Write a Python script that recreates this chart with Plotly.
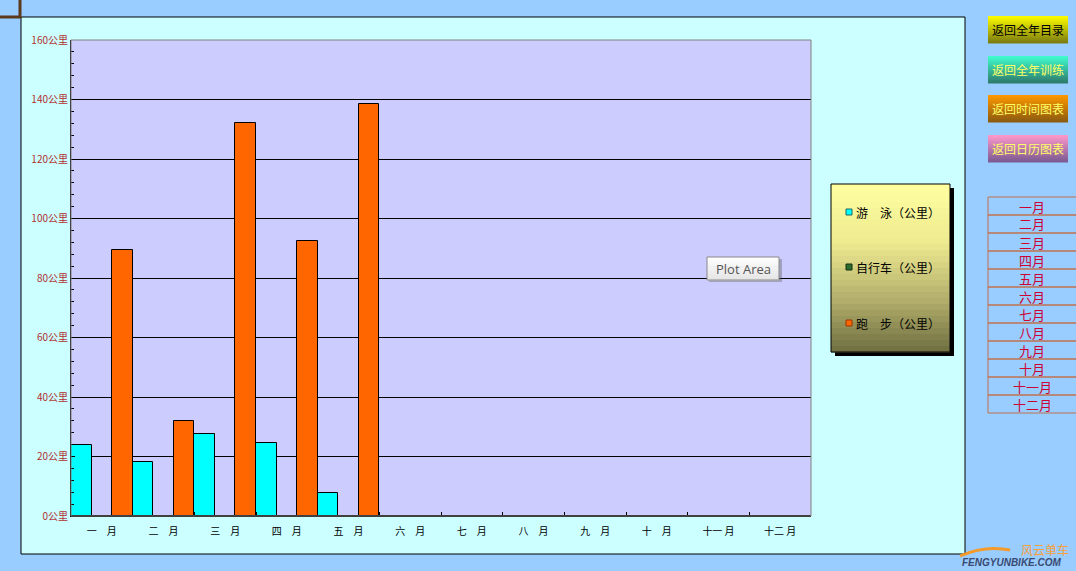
import plotly.graph_objects as go

months = ["一　月", "二　月", "三　月", "四　月", "五　月", "六　月",
          "七　月", "八　月", "九　月", "十　月", "十一 月", "十二 月"]
swim = [23.7, 18.3, 27.5, 24.7, 7.9, 0, 0, 0, 0, 0, 0, 0]
cycle = [0, 0, 0, 0, 0, 0, 0, 0, 0, 0, 0, 0]
run = [89.4, 32.1, 132.2, 92.4, 138.6, 0, 0, 0, 0, 0, 0, 0]
series_names = ["游　泳（公里）", "自行车（公里）", "跑　步（公里）"]
series_colors = ["#00FFFF", "#2E6B2E", "#FF6600"]
y_ticks = [0, 20, 40, 60, 80, 100, 120, 140, 160]
y_ticktext = [f"{v}公里" for v in y_ticks]
buttons = ["返回全年目录", "返回全年训练", "返回时间图表", "返回日历图表"]
month_list = ["一月", "二月", "三月", "四月", "五月", "六月",
              "七月", "八月", "九月", "十月", "十一月", "十二月"]

W, H = 1076, 571
PL, PR, PT, PB = 71, 811, 40, 516
FONT = "Noto Sans CJK SC"


def X(p):
    return (p - PL) / (PR - PL)


def Y(p):
    return (PB - p) / (PB - PT)


def hex2rgb(h):
    h = h.lstrip("#")
    return tuple(int(h[i:i + 2], 16) for i in (0, 2, 4))


def mix(c1, c2, t):
    a, b = hex2rgb(c1), hex2rgb(c2)
    return "rgb(%d,%d,%d)" % tuple(round(a[i] + (b[i] - a[i]) * t) for i in range(3))


shapes = []
annotations = []


def rect(x0, y0, x1, y1, fill=None, line=None, lw=1, layer="below"):
    shapes.append(dict(type="rect", xref="paper", yref="paper",
                       x0=X(x0), x1=X(x1), y0=Y(y1), y1=Y(y0),
                       fillcolor=fill if fill else "rgba(0,0,0,0)",
                       line=dict(color=line if line else "rgba(0,0,0,0)", width=lw if line else 0),
                       layer=layer))


def grad(x0, y0, x1, y1, ctop, cbot, n=28, layer="below", stops=None):
    h = (y1 - y0) / n
    for i in range(n):
        t = (i + 0.5) / n
        if stops:
            for j in range(len(stops) - 1):
                if stops[j][0] <= t <= stops[j + 1][0]:
                    tt = (t - stops[j][0]) / (stops[j + 1][0] - stops[j][0])
                    col = mix(stops[j][1], stops[j + 1][1], tt)
                    break
        else:
            col = mix(ctop, cbot, t)
        rect(x0, y0 + i * h, x1, y0 + (i + 1) * h + 0.6, fill=col, layer=layer)


def text(x, y, s, size=12, color="black", xanchor="center", family=FONT, **kw):
    annotations.append(dict(x=X(x), y=Y(y), xref="paper", yref="paper", text=s,
                            showarrow=False, xanchor=xanchor, yanchor="middle",
                            font=dict(size=size, color=color, family=family), **kw))


# chart area
rect(21, 17, 965, 554, fill="#CCFFFF", line="black", lw=1)
# plot area background
rect(PL, PT, PR, PB, fill="#CCCCFF")

# plot area border
rect(PL, PT, PR, PB, line="#808080", lw=1, layer="above")

# legend box with shadow and gradient
rect(835, 188, 954, 356, fill="#000000")
grad(831, 184, 950, 352, None, None, stops=[(0, "#FFFFA0"), (0.35, "#EEEA90"), (0.7, "#B0AC6A"), (1, "#6E6E40")])
rect(831, 184, 950, 352, line="black", lw=1)
leg_y = [212, 267, 323]
leg_border = ["#226666", "#113311", "#993300"]
for yy, nm, c, bc in zip(leg_y, series_names, series_colors, leg_border):
    rect(846, yy - 3, 852, yy + 3, fill=c, line=bc, lw=1, layer="above")
    text(854, yy, nm, size=12, xanchor="left")

# buttons
btn_y = [16, 56, 95, 135]
btn_cols = [("#FFFF00", "#7A7A10"), ("#40FFD0", "#2E7A6A"), ("#FF9900", "#8A5A10"), ("#FF99CC", "#7A5A90")]
btn_text_col = ["#000000", "#FFFF66", "#FFFF66", "#FFFF66"]
for yy, lbl, (c1, c2), tc in zip(btn_y, buttons, btn_cols, btn_text_col):
    grad(988, yy, 1068, yy + 27, c1, c2, n=18)
    text(1028, yy + 13.5, lbl, size=12, color=tc)

# month table
for i, m in enumerate(month_list):
    y0 = 197 + i * 18
    rect(988, y0, 1080, y0 + 18, line="#C07050", lw=1)
    text(1032, y0 + 9, m, size=13, color="#CC0033")

# top-left handle
shapes.append(dict(type="line", xref="paper", yref="paper", x0=X(0), x1=X(21), y0=Y(17), y1=Y(17),
                   line=dict(color="#5A3A1A", width=3)))
shapes.append(dict(type="line", xref="paper", yref="paper", x0=X(20), x1=X(20), y0=Y(0), y1=Y(18),
                   line=dict(color="#5A3A1A", width=3)))

# Plot Area tooltip
rect(709, 259, 782, 282, fill="rgba(80,80,80,0.35)", layer="above")
grad(707, 257, 779, 280, "#FFFFFF", "#E4E4E4", n=10, layer="above")
rect(707, 257, 779, 280, line="#888888", lw=1, layer="above")
text(743, 268.5, "Plot Area", size=13, color="#555555", family="Open Sans")

# watermark
shapes.append(dict(type="path", xref="paper", yref="paper",
                   path="M %f,%f Q %f,%f %f,%f" % (X(960), Y(556), X(985), Y(545), X(1010), Y(550)),
                   line=dict(color="#F39A2A", width=3)))
text(1045, 549, "风云单车", size=12, color="#F7A040")
text(1012, 562, "<b><i>FENGYUNBIKE.COM</i></b>", size=10, color="#3A4A70", family="Liberation Sans")

fig = go.Figure()
for vals, nm, c in zip([swim, cycle, run], series_names, series_colors):
    fig.add_trace(go.Bar(x=months, y=vals, name=nm, marker=dict(color=c, line=dict(color="black", width=1)),
                         showlegend=False))

fig.update_layout(
    width=W, height=H,
    margin=dict(l=PL, r=W - PR, t=PT, b=H - PB, pad=0),
    paper_bgcolor="#99CCFF",
    plot_bgcolor="#CCCCFF",
    barmode="group", bargap=0, bargroupgap=0,
    shapes=shapes, annotations=annotations,
    font=dict(family=FONT),
    xaxis=dict(type="category", tickson="boundaries", ticks="inside", ticklen=4, tickcolor="black",
               showgrid=False, showline=True, linecolor="black", linewidth=1,
               tickfont=dict(size=10, color="black", family=FONT), ticklabelstandoff=6),
    yaxis=dict(range=[0, 160], tickvals=y_ticks, ticktext=y_ticktext, ticks="inside", ticklen=4,
               tickcolor="black", showgrid=True, gridcolor="black", gridwidth=1,
               showline=True, linecolor="black", linewidth=1, zeroline=False,
               tickfont=dict(size=10, color="#B03030", family=FONT),
               minor=dict(dtick=4, ticks="inside", ticklen=3, tickcolor="black", showgrid=False)),
)

fig.write_html("out.html", config={"displayModeBar": False},
               post_script="document.body.style.margin='0';document.body.style.background='#99CCFF';document.body.style.overflow='hidden';")
